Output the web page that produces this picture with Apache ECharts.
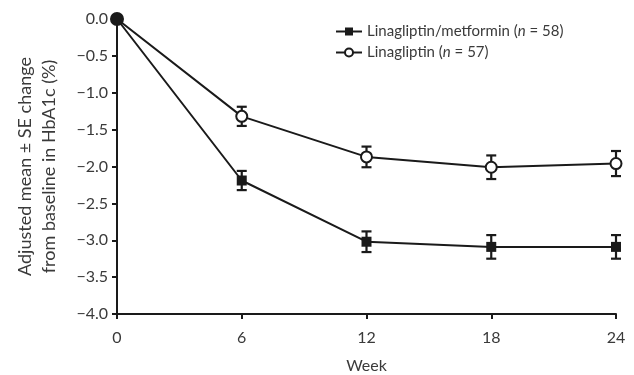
<!DOCTYPE html>
<html>
<head>
<meta charset="utf-8">
<script src="https://cdn.jsdelivr.net/npm/echarts@6/dist/echarts.min.js"></script>
<style>html,body{margin:0;padding:0;background:#fff}#c{width:634px;height:375px}</style>
</head>
<body>
<div id="c"></div>
<script>
var weeks = [0, 6, 12, 18, 24];
var metforminMean = [0, -2.19, -3.02, -3.09, -3.09];
var metforminSE = [0, 0.13, 0.14, 0.16, 0.16];
var linaMean = [0, -1.32, -1.87, -2.01, -1.96];
var linaSE = [0, 0.13, 0.14, 0.16, 0.17];
var xTicks = [0, 6, 12, 18, 24];
var seriesNames = ['Linagliptin/metformin', 'Linagliptin'];
var seriesN = [58, 57];

var FONT = 'Lato, "Open Sans", sans-serif';
var TXT = '#3a3a3a';
var FS = 16;

function pts(means) {
  return weeks.map(function (w, i) {
    var d = { value: [w, means[i]] };
    if (i === 0) {
      d.symbol = 'circle';
      d.symbolSize = 12;
      d.itemStyle = { color: '#1a1a1a', borderColor: '#1a1a1a' };
    }
    return d;
  });
}
function errData(means, se) {
  var out = [];
  for (var i = 1; i < weeks.length; i++) out.push([weeks[i], means[i] - se[i], means[i] + se[i]]);
  return out;
}
function renderErr(params, api) {
  var x = api.value(0);
  var lo = api.coord([x, api.value(1)]);
  var hi = api.coord([x, api.value(2)]);
  var cw = 5;
  var st = { stroke: '#1a1a1a', lineWidth: 2.2 };
  return {
    type: 'group',
    children: [
      { type: 'line', shape: { x1: lo[0], y1: lo[1], x2: hi[0], y2: hi[1] }, style: st },
      { type: 'line', shape: { x1: lo[0] - cw, y1: lo[1], x2: lo[0] + cw, y2: lo[1] }, style: st },
      { type: 'line', shape: { x1: hi[0] - cw, y1: hi[1], x2: hi[0] + cw, y2: hi[1] }, style: st }
    ]
  };
}

var chart = echarts.init(document.getElementById('c'), null, { renderer: 'canvas' });
chart.setOption({
  animation: false,
  backgroundColor: '#fff',
  grid: { left: 117, right: 18, top: 19, bottom: 61, containLabel: false, outerBoundsMode: 'none' },
  legend: {
    orient: 'vertical',
    left: 330,
    top: 19,
    itemGap: 6,
    itemWidth: 26,
    itemHeight: 10,
    data: seriesNames,
    textStyle: {
      fontFamily: FONT, fontSize: 15, color: TXT,
      rich: { i: { fontFamily: FONT, fontSize: 15, color: TXT, fontStyle: 'italic' } }
    },
    formatter: function (name) {
      var idx = seriesNames.indexOf(name);
      return name + ' ({i|n} = ' + seriesN[idx] + ')';
    }
  },
  xAxis: {
    type: 'value',
    min: 0, max: 24, interval: 6,
    name: 'Week',
    nameLocation: 'middle',
    nameGap: 44,
    nameTextStyle: { fontFamily: FONT, fontSize: FS, color: TXT },
    axisLine: { onZero: false, lineStyle: { color: '#1a1a1a', width: 2 } },
    axisTick: { show: true, length: 5, lineStyle: { color: '#1a1a1a', width: 2 } },
    axisLabel: { fontFamily: FONT, fontSize: FS, color: TXT, margin: 16,
      formatter: function (v) { return xTicks.indexOf(v) >= 0 ? String(v) : ''; } },
    splitLine: { show: false }
  },
  yAxis: {
    type: 'value',
    min: -4, max: 0, interval: 0.5,
    name: 'Adjusted mean \u00b1 SE change\nfrom baseline in HbA1c (%)',
    nameLocation: 'middle',
    nameGap: 56,
    nameTextStyle: { fontFamily: FONT, fontSize: 18, color: TXT, lineHeight: 24 },
    axisLine: { show: true, onZero: false, lineStyle: { color: '#1a1a1a', width: 2 } },
    axisTick: { show: true, length: 5, lineStyle: { color: '#1a1a1a', width: 2 } },
    axisLabel: { fontFamily: FONT, fontSize: FS, color: TXT, margin: 9,
      formatter: function (v) { return (v < 0 ? '\u2212' : '') + Math.abs(v).toFixed(1); } },
    splitLine: { show: false }
  },
  series: [
    {
      name: seriesNames[0], type: 'line', data: pts(metforminMean),
      symbol: 'rect', symbolSize: 10, z: 3,
      lineStyle: { color: '#1a1a1a', width: 2 },
      itemStyle: { color: '#1a1a1a', borderColor: '#1a1a1a', borderWidth: 0 }
    },
    {
      name: seriesNames[1], type: 'line', data: pts(linaMean),
      symbol: 'circle', symbolSize: 11, z: 4,
      lineStyle: { color: '#1a1a1a', width: 2 },
      itemStyle: { color: '#fff', borderColor: '#1a1a1a', borderWidth: 2 }
    },
    { type: 'custom', renderItem: renderErr, data: errData(metforminMean, metforminSE), z: 2, silent: true },
    { type: 'custom', renderItem: renderErr, data: errData(linaMean, linaSE), z: 2, silent: true }
  ]
});
</script>
</body>
</html>
